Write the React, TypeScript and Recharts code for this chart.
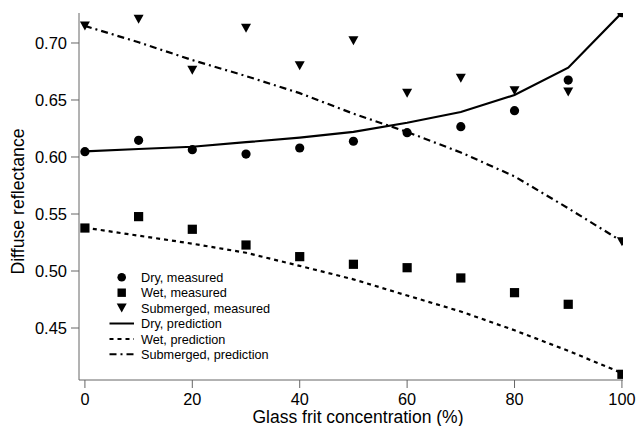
import { ComposedChart, Line, Scatter, XAxis, YAxis } from "recharts";

const concentration = [0, 10, 20, 30, 40, 50, 60, 70, 80, 90, 100];

const dryMeasured = [0.6047, 0.6146, 0.6064, 0.6026, 0.6079, 0.6138, 0.6213, 0.6266, 0.6406, 0.6675, 0.7266];
const wetMeasured = [0.5377, 0.5477, 0.5366, 0.5228, 0.5126, 0.5059, 0.5029, 0.4939, 0.481, 0.4708, 0.4094];
const submergedMeasured = [0.715, 0.7208, 0.676, 0.713, 0.68, 0.702, 0.656, 0.669, 0.658, 0.657, 0.5257];

const dryPrediction = [0.605, 0.607, 0.609, 0.613, 0.617, 0.622, 0.63, 0.6395, 0.6544, 0.6783, 0.7266];
const wetPrediction = [0.538, 0.531, 0.524, 0.516, 0.5045, 0.4927, 0.4785, 0.4645, 0.448, 0.43, 0.4105];
const submergedPrediction = [0.715, 0.7006, 0.685, 0.671, 0.656, 0.638, 0.622, 0.604, 0.583, 0.555, 0.526];

const xTicks = [0, 20, 40, 60, 80, 100];
const yTicks = [0.45, 0.5, 0.55, 0.6, 0.65, 0.7];

const rows = concentration.map((x, i) => ({
  x,
  dry: dryMeasured[i],
  wet: wetMeasured[i],
  sub: submergedMeasured[i],
  dryPred: dryPrediction[i],
  wetPred: wetPrediction[i],
  subPred: submergedPrediction[i],
}));

const FONT = '"Liberation Sans", Arial, Helvetica, sans-serif';
const AXIS = "#666";
const WET_DASH = "4 4";
const SUB_DASH = "7 4 2 4";

const Circle = (p: any) => <circle cx={p.cx} cy={p.cy} r={4.6} fill="#000" />;
const Square = (p: any) => <rect x={p.cx - 4.6} y={p.cy - 4.6} width={9.2} height={9.2} fill="#000" />;
const Triangle = (p: any) => (
  <polygon
    points={`${p.cx - 5},${p.cy - 4.5} ${p.cx + 5},${p.cy - 4.5} ${p.cx},${p.cy + 4.5}`}
    fill="#000"
  />
);

const legendItems = [
  { label: "Dry, measured", kind: "circle" },
  { label: "Wet, measured", kind: "square" },
  { label: "Submerged, measured", kind: "triangle" },
  { label: "Dry, prediction", kind: "line", dash: undefined },
  { label: "Wet, prediction", kind: "line", dash: WET_DASH },
  { label: "Submerged, prediction", kind: "line", dash: SUB_DASH },
];

// legend drawn on top of the chart, rows stacked at the lower left
function LegendBox() {
  const y0 = 277.3;
  const step = 15.4;
  return (
    <svg width={636} height={426} style={{ position: "absolute", left: 0, top: 0, pointerEvents: "none" }}>
      {legendItems.map((it, i) => {
        const y = y0 + i * step;
        return (
          <g key={it.label}>
            {it.kind === "circle" && <circle cx={121.7} cy={y} r={4.3} fill="#000" />}
            {it.kind === "square" && <rect x={117.5} y={y - 4.2} width={8.4} height={8.4} fill="#000" />}
            {it.kind === "triangle" && <Triangle cx={121.7} cy={y} />}
            {it.kind === "line" && (
              <line x1={109.5} x2={134} y1={y} y2={y} stroke="#000" strokeWidth={2} strokeDasharray={it.dash} />
            )}
            <text x={141} y={y + 4.6} fontFamily={FONT} fontSize={12.7} fill="#000">
              {it.label}
            </text>
          </g>
        );
      })}
    </svg>
  );
}

export default function App() {
  return (
    <div style={{ position: "absolute", left: 0, top: 0, width: 636, height: 426, background: "#fff" }}>
      <ComposedChart
        width={636}
        height={426}
        data={rows}
        margin={{ top: 13, right: 13, bottom: 0, left: 0 }}
      >
        <XAxis
          dataKey="x"
          type="number"
          domain={[-1.1, 100.2]}
          ticks={xTicks}
          allowDataOverflow
          height={46}
          stroke={AXIS}
          tickSize={8}
          tickMargin={5}
          tick={{ fill: "#000", fontFamily: FONT, fontSize: 16.3 }}
          label={{
            value: "Glass frit concentration (%)",
            position: "insideBottom",
            offset: 3,
            dx: 7,
            style: { fill: "#000", fontFamily: FONT, fontSize: 17.5 },
          }}
        />
        <YAxis
          type="number"
          domain={[0.4044, 0.7263]}
          ticks={yTicks}
          allowDataOverflow
          width={79}
          stroke={AXIS}
          tickSize={8}
          tickMargin={4}
          tickFormatter={(v: number) => v.toFixed(2)}
          tick={{ fill: "#000", fontFamily: FONT, fontSize: 16.5 }}
          label={{
            value: "Diffuse reflectance",
            angle: -90,
            position: "center",
            dx: -22,
            dy: 5,
            style: { fill: "#000", fontFamily: FONT, fontSize: 17.7, textAnchor: "middle" },
          }}
        />
        <Line dataKey="dryPred" stroke="#000" strokeWidth={2.2} dot={false} isAnimationActive={false} type="linear" />
        <Line dataKey="wetPred" stroke="#000" strokeWidth={2.2} strokeDasharray={WET_DASH} dot={false} isAnimationActive={false} type="linear" />
        <Line dataKey="subPred" stroke="#000" strokeWidth={2.2} strokeDasharray={SUB_DASH} dot={false} isAnimationActive={false} type="linear" />
        <Scatter dataKey="dry" shape={Circle} isAnimationActive={false} />
        <Scatter dataKey="wet" shape={Square} isAnimationActive={false} />
        <Scatter dataKey="sub" shape={Triangle} isAnimationActive={false} />
      </ComposedChart>
      <LegendBox />
    </div>
  );
}
